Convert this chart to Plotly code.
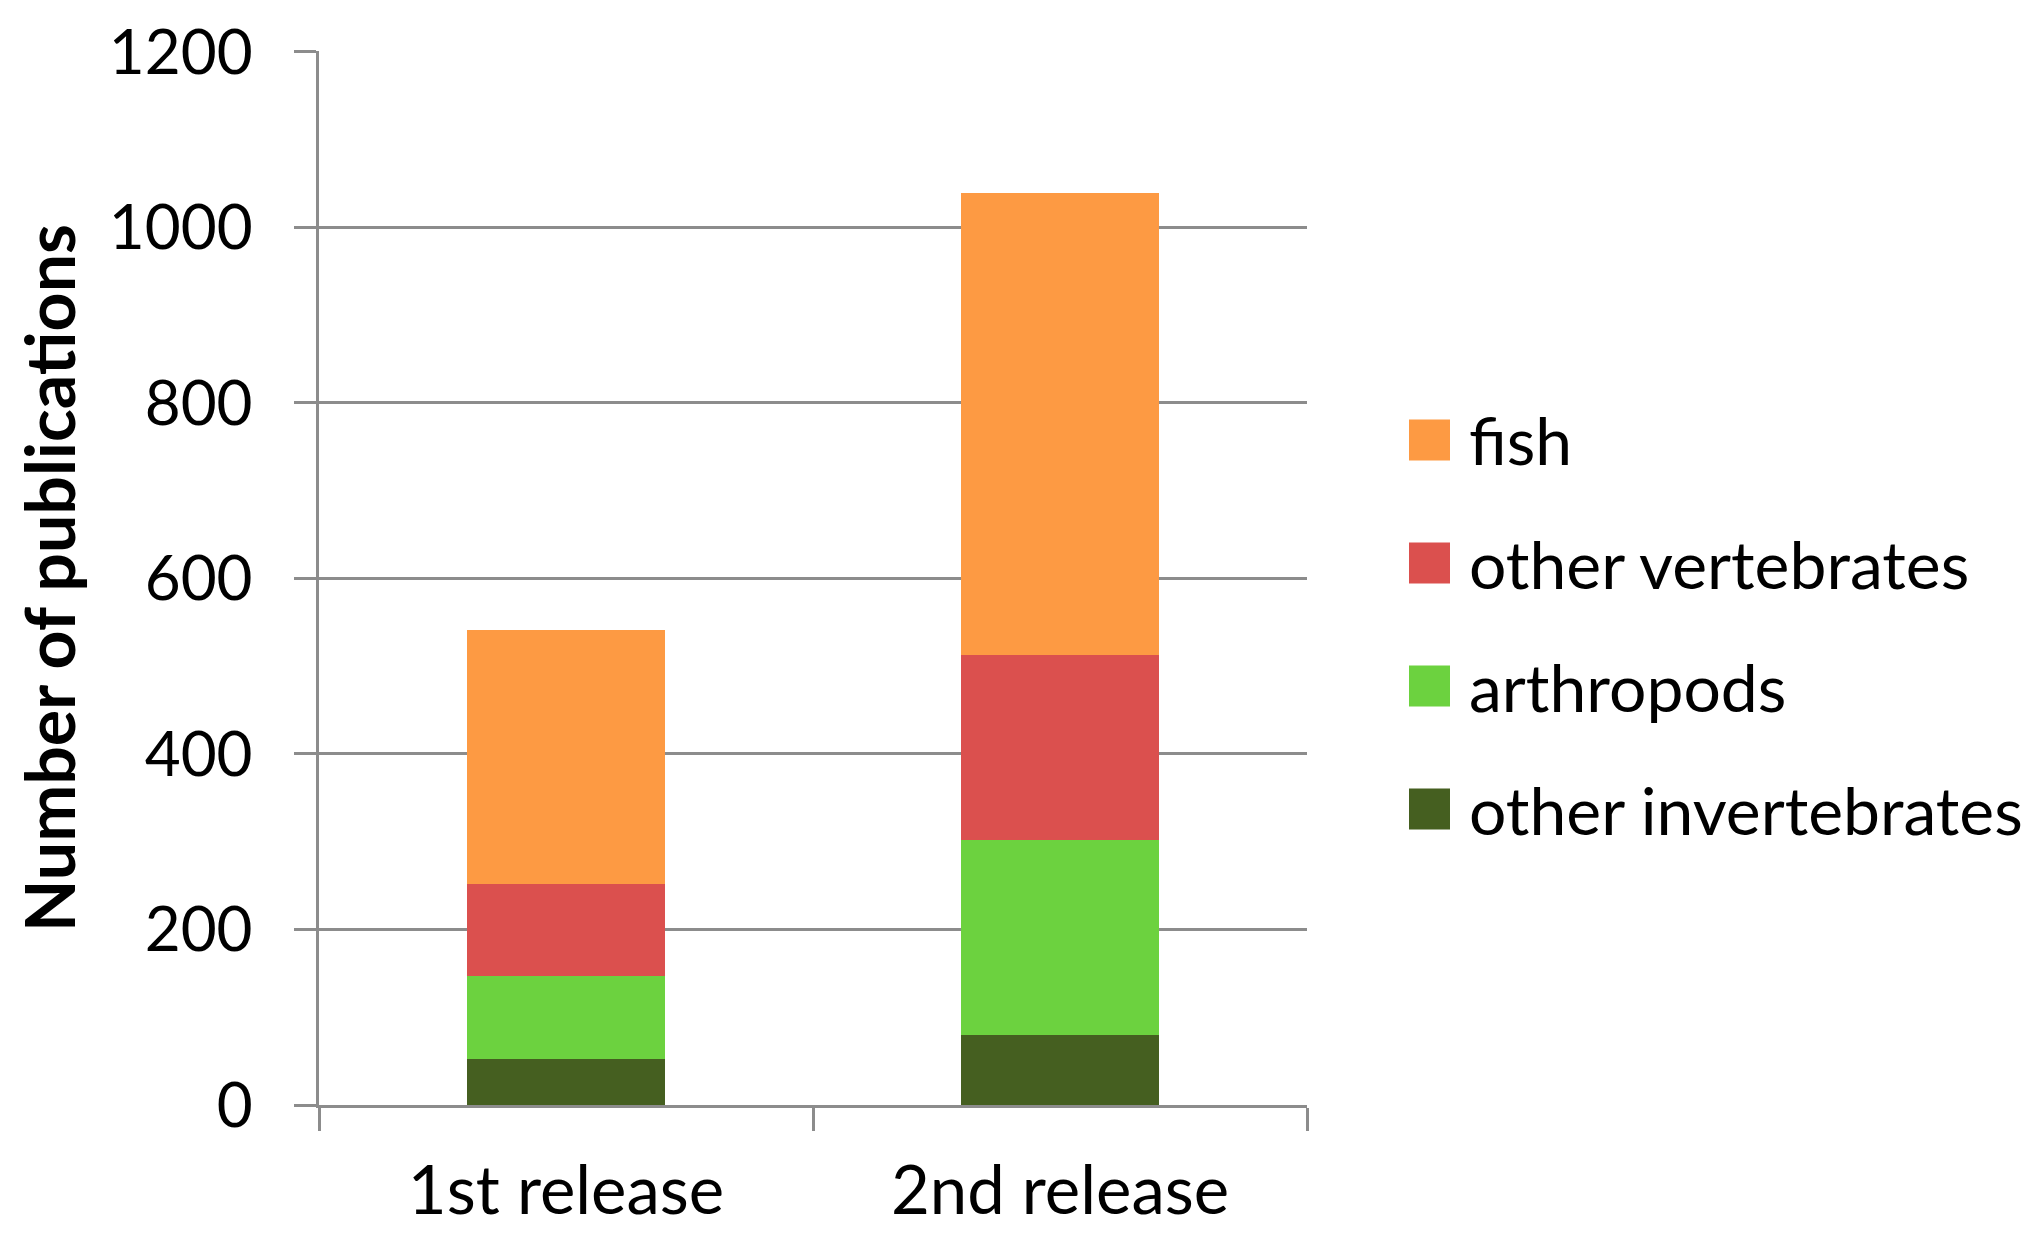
import plotly.graph_objects as go

# data
releases = ["1st release", "2nd release"]
series_names = ["other invertebrates", "arthropods", "other vertebrates", "fish"]
other_invertebrates = [52, 80]
arthropods = [95, 222]
other_vertebrates = [105, 211]
fish = [289, 526]
y_ticks = [0, 200, 400, 600, 800, 1000, 1200]

colors = {
    "fish": "#FD9A43",
    "other vertebrates": "#DB504E",
    "arthropods": "#6CD23F",
    "other invertebrates": "#455F20",
}
values = {
    "other invertebrates": other_invertebrates,
    "arthropods": arthropods,
    "other vertebrates": other_vertebrates,
    "fish": fish,
}

FONT = "Lato, Carlito, Calibri, sans-serif"
GRAY = "#8c8c8c"
# the page body adds an 8px margin, so the figure is a bit smaller than the window
W, H = 2024, 1222
L, T = 311, 43
PLOT_W, PLOT_H = 988, 1054
R, B = W - L - PLOT_W, H - T - PLOT_H


def main():
    fig = go.Figure()
    for name in series_names:
        fig.add_trace(
            go.Bar(
                x=releases,
                y=values[name],
                name=name,
                marker=dict(color=colors[name], line=dict(width=0)),
                showlegend=False,
            )
        )

    # hand-made legend so the colour keys can be as large as in the original
    box = 41
    x0 = (1401 - L) / PLOT_W
    x1 = x0 + box / PLOT_W
    xt = (1459 - L) / PLOT_W
    for i, name in enumerate(reversed(series_names)):
        yc = (T + PLOT_H - (432 + 123 * i)) / PLOT_H
        half = box / 2 / PLOT_H
        fig.add_shape(
            type="rect", xref="paper", yref="paper",
            x0=x0, x1=x1, y0=yc - half, y1=yc + half,
            fillcolor=colors[name], line=dict(width=0),
        )
        fig.add_annotation(
            xref="paper", yref="paper", x=xt, y=yc,
            text=name, showarrow=False, xanchor="left", yanchor="middle",
            font=dict(family=FONT, size=66, color="black"),
        )

    fig.update_layout(
        width=W,
        height=H,
        margin=dict(l=L, r=R, t=T, b=B, autoexpand=False),
        barmode="stack",
        bargap=0.6,
        paper_bgcolor="white",
        plot_bgcolor="white",
        font=dict(family=FONT, size=62, color="black"),
    )
    fig.update_xaxes(
        type="category",
        automargin=False,
        showline=True,
        linecolor=GRAY,
        linewidth=3,
        ticks="outside",
        tickson="boundaries",
        ticklen=23,
        tickwidth=3,
        tickcolor=GRAY,
        ticklabelstandoff=26,
        tickfont=dict(family=FONT, size=67, color="black"),
        showgrid=False,
    )
    fig.update_yaxes(
        range=[0, 1201],
        automargin=False,
        tickvals=y_ticks,
        showline=True,
        linecolor=GRAY,
        linewidth=3,
        ticks="outside",
        ticklen=22,
        tickwidth=3,
        tickcolor=GRAY,
        ticklabelstandoff=29,
        showgrid=True,
        gridcolor=GRAY,
        gridwidth=3,
        zeroline=False,
        tickfont=dict(family=FONT, size=62, color="black"),
        title=dict(
            text="<b>Number of publications</b>",
            font=dict(family=FONT, size=68, color="black"),
            standoff=34,
        ),
    )

    fig.write_html("out.html")


if __name__ == "__main__":
    main()
